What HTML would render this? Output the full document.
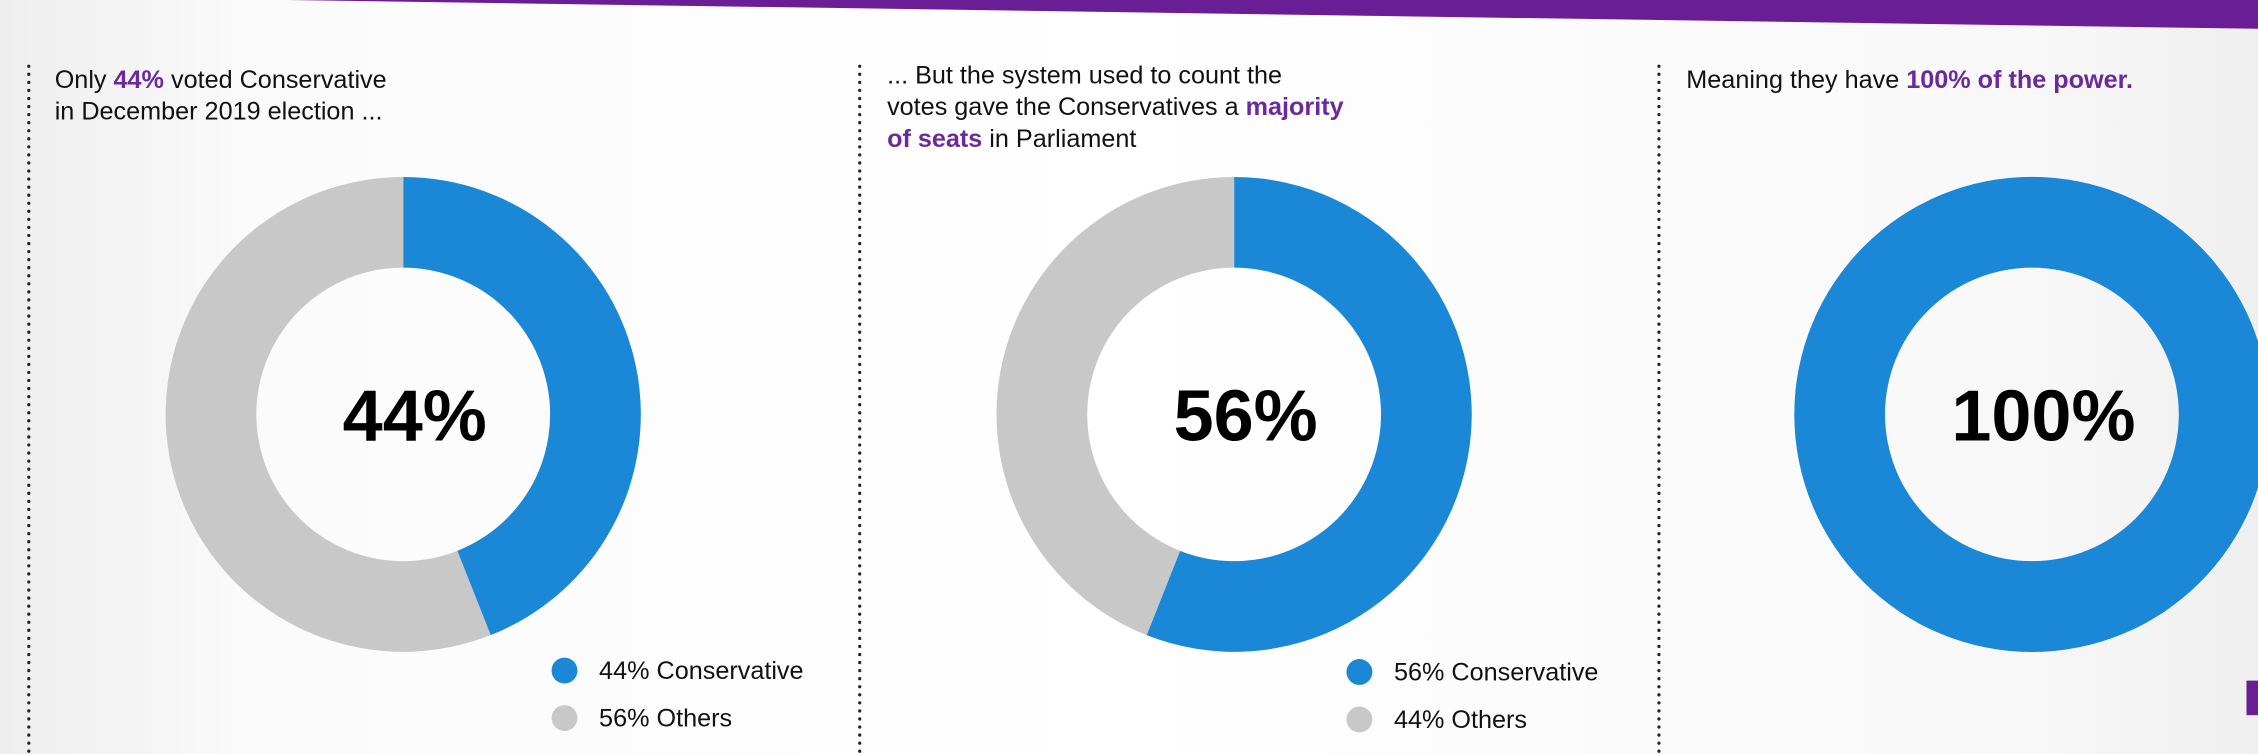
<!DOCTYPE html>
<html><head><meta charset="utf-8"><style>
html,body{margin:0;padding:0;width:2258px;height:754px;overflow:hidden;background:#fff}
svg{display:block}
text{font-family:"Liberation Sans",sans-serif}
</style></head><body>
<svg id="chart" width="2258" height="754" viewBox="0 0 1568 524" preserveAspectRatio="none" xmlns="http://www.w3.org/2000/svg">
<defs>
<linearGradient id="bg" x1="0" x2="1" y1="0" y2="0">
<stop offset="0" stop-color="#eeeeee"/><stop offset="0.12" stop-color="#fbfbfb"/><stop offset="0.5" stop-color="#ffffff"/><stop offset="0.9" stop-color="#f8f8f8"/><stop offset="1" stop-color="#efefef"/>
</linearGradient>
</defs>
<rect x="0" y="0" width="1568" height="524" fill="url(#bg)"/>
<polygon points="200,0 1568,0 1568,20" fill="#6a1e96"/>
<rect x="1560" y="473" width="8" height="24" fill="#6a1e96"/>
<g stroke="#222" stroke-width="2.2" stroke-dasharray="0.1 5.5" stroke-linecap="round">
<line x1="20" y1="46" x2="20" y2="524"/>
<line x1="597" y1="46" x2="597" y2="524"/>
<line x1="1152" y1="46" x2="1152" y2="524"/>
</g>
<g font-size="17.5" fill="#111">
<text x="38" y="61">Only <tspan fill="#6b2a9c" font-weight="bold">44%</tspan> voted Conservative</text>
<text x="38" y="83">in December 2019 election ...</text>
<text x="616" y="58">... But the system used to count the</text>
<text x="616" y="80">votes gave the Conservatives a <tspan fill="#6b2a9c" font-weight="bold">majority</tspan></text>
<text x="616" y="102"><tspan fill="#6b2a9c" font-weight="bold">of seats</tspan> in Parliament</text>
<text x="1171" y="61">Meaning they have <tspan fill="#6b2a9c" font-weight="bold">100% of the power.</tspan></text>
</g>
<g id="donuts"></g>
</svg>
<script>
const panels = ["votes", "seats", "power"];
const conservative = [44, 56, 100];
const others = [56, 44, 0];
const centerLabels = ["44%", "56%", "100%"];
const legendConservative = ["44% Conservative", "56% Conservative", ""];
const legendOthers = ["56% Others", "44% Others", ""];

const NS = "http://www.w3.org/2000/svg";
const g = document.getElementById("donuts");
const cxs = [280, 857, 1411], cy = 288, R = 165, r = 102;
function pt(cx, rad, pct) {
  const a = pct / 100 * 2 * Math.PI - Math.PI / 2;
  return [cx + rad * Math.cos(a), cy + rad * Math.sin(a)];
}
function arc(cx, p0, p1) {
  if (p1 - p0 >= 99.999) {
    return `M${cx - R},${cy} A${R},${R} 0 1 1 ${cx + R},${cy} A${R},${R} 0 1 1 ${cx - R},${cy} Z M${cx - r},${cy} A${r},${r} 0 1 0 ${cx + r},${cy} A${r},${r} 0 1 0 ${cx - r},${cy} Z`;
  }
  const [x0, y0] = pt(cx, R, p0), [x1, y1] = pt(cx, R, p1);
  const [x2, y2] = pt(cx, r, p1), [x3, y3] = pt(cx, r, p0);
  const lg = (p1 - p0) > 50 ? 1 : 0;
  return `M${x0},${y0} A${R},${R} 0 ${lg} 1 ${x1},${y1} L${x2},${y2} A${r},${r} 0 ${lg} 0 ${x3},${y3} Z`;
}
panels.forEach((p, i) => {
  const cx = cxs[i];
  const c = conservative[i], o = others[i];
  const s1 = document.createElementNS(NS, "path");
  s1.setAttribute("d", arc(cx, 0, c));
  s1.setAttribute("fill", "#1a88d6");
  s1.setAttribute("fill-rule", "evenodd");
  
  
  g.appendChild(s1);
  if (o > 0) {
    const s2 = document.createElementNS(NS, "path");
    s2.setAttribute("d", arc(cx, c, c + o));
    s2.setAttribute("fill", "#c8c8c8");
    
    
    g.appendChild(s2);
  }
  const t = document.createElementNS(NS, "text");
  t.setAttribute("x", cx + 8);
  t.setAttribute("y", cy + 18);
  t.setAttribute("text-anchor", "middle");
  t.setAttribute("font-size", "50");
  t.setAttribute("font-weight", "bold");
  t.setAttribute("fill", "#000");
  t.textContent = centerLabels[i];
  
  
  g.appendChild(t);
  if (legendConservative[i]) {
    const lx = [392, 944][i];
    [[legendConservative[i], "#1a88d6", 466], [legendOthers[i], "#c8c8c8", 499]].forEach((e, k) => {
      const d = document.createElementNS(NS, "circle");
      d.setAttribute("cx", lx); d.setAttribute("cy", e[2] + (i === 1 ? 1 : 0)); d.setAttribute("r", 9);
      d.setAttribute("fill", e[1]);
      
      
      g.appendChild(d);
      const lt = document.createElementNS(NS, "text");
      lt.setAttribute("x", lx + 24); lt.setAttribute("y", e[2] + 6 + (i === 1 ? 1 : 0));
      lt.setAttribute("font-size", "17.5"); lt.setAttribute("fill", "#111");
      lt.textContent = e[0];
      
      
      g.appendChild(lt);
    });
  }
});
</script>
</body></html>
